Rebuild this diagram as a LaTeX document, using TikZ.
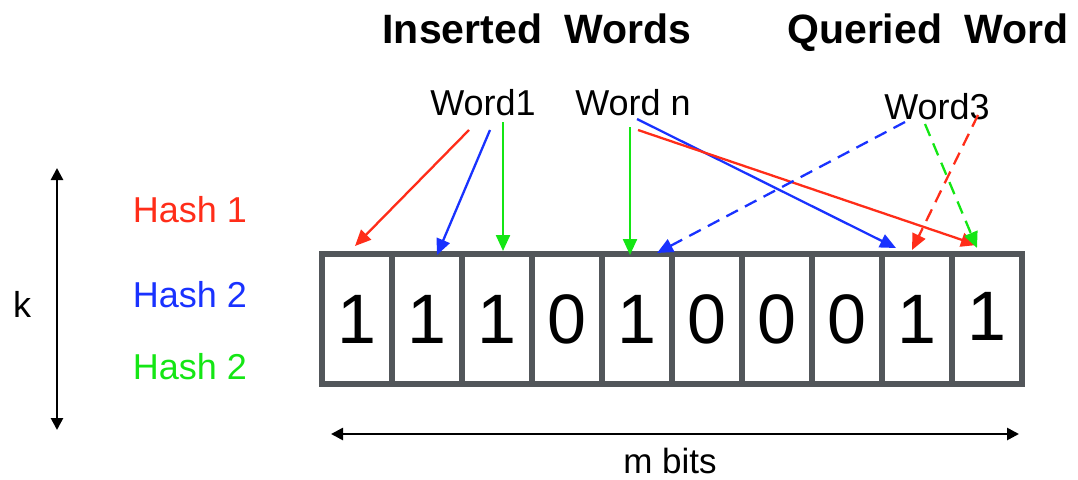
\documentclass[tikz,border=0pt]{standalone}
\usepackage{fontspec}
\setmainfont{Liberation Sans}
\usetikzlibrary{arrows.meta}
\definecolor{hred}{RGB}{255,45,25}
\definecolor{hblue}{RGB}{25,50,255}
\definecolor{hgreen}{RGB}{20,230,20}
\definecolor{cellgray}{RGB}{82,86,90}
\begin{document}
\begin{tikzpicture}[x=1pt,y=-1pt,
  lbl/.style={inner sep=0pt,font=\fontsize{36}{40}\selectfont},
  ttl/.style={inner sep=0pt,font=\fontsize{41}{46}\selectfont\bfseries},
  bitcell/.style={draw=cellgray,line width=5.5pt,fill=white,minimum width=70pt,minimum height=130pt,inner sep=0pt,outer sep=0pt,font=\fontsize{70}{80}\selectfont},
  harrow/.style={line width=2.3pt,-{Triangle[length=16pt,width=14pt]}},
  hdash/.style={harrow,dash pattern=on 13pt off 8pt},
  dimarrow/.style={line width=2.6pt,{Triangle[length=12pt,width=12pt]}-{Triangle[length=12pt,width=12pt]}}
]
\useasboundingbox (0,0) rectangle (1078,479);

% titles
\node[ttl] (tins) at (537,29) {Inserted\hspace{0.55em}Words};
\node[ttl] (tque) at (928,33) {Queried\hspace{0.55em}Word};

% words
\node[lbl] (w1) at (483,103) {Word1};
\node[lbl] (wn) at (633,103) {Word n};
\node[lbl] (w3) at (937,107) {Word3};

% hash labels
\node[lbl,text=hred] (h1) at (190,210) {Hash 1};
\node[lbl,text=hblue] (h2) at (190,295) {Hash 2};
\node[lbl,text=hgreen] (h3) at (190,367) {Hash 2};
\node[lbl] (k) at (22,304) {k};

% bit array
\foreach \i/\b in {0/1,1/1,2/1,3/0,4/1,5/0,6/0,7/0,8/1} {
  \node[bitcell] (c\i) at (357+70*\i,319) {\b};
}
\node[bitcell] (c9) at (987,319) {\raisebox{5pt}{1}};

% dimension arrows
\coordinate (ktop) at (57,168);
\coordinate (kbot) at (57,430);
\draw[dimarrow] (ktop) -- (kbot);
\coordinate (mleft) at (331,434);
\coordinate (mright) at (1019,434);
\draw[dimarrow] (mleft) -- (mright);
\node[lbl,font=\fontsize{35}{38}\selectfont] (mb) at (670,461) {m bits};

% connector end points
\coordinate (w1r) at (469,130);
\coordinate (w1b) at (490,130);
\coordinate (w1g) at (503,122);
\coordinate (wng) at (630,127);
\coordinate (wnb) at (637,119);
\coordinate (wnr) at (638,130);
\coordinate (w3b) at (905,122);
\coordinate (w3g) at (925,124);
\coordinate (w3r) at (978,115);

\coordinate (e0) at (355,246);
\coordinate (e1) at (437,255);
\coordinate (e2) at (503,251);
\coordinate (e4g) at (630,255);
\coordinate (e4b) at (657,253);
\coordinate (e8b) at (896,248);
\coordinate (e8r) at (912,250);
\coordinate (e9r) at (977,245);
\coordinate (e9g) at (977,248);

\draw[harrow,hred] (w1r) -- (e0);
\draw[harrow,hblue] (w1b) -- (e1);
\draw[harrow,hgreen] (w1g) -- (e2);
\draw[harrow,hgreen] (wng) -- (e4g);
\draw[harrow,hblue] (wnb) -- (e8b);
\draw[harrow,hred] (wnr) -- (e9r);
\draw[hdash,hblue] (w3b) -- (e4b);
\draw[hdash,hgreen] (w3g) -- (e9g);
\draw[hdash,hred] (w3r) -- (e8r);
\end{tikzpicture}
\end{document}
